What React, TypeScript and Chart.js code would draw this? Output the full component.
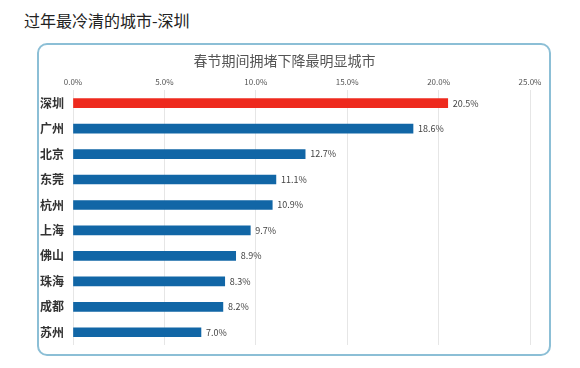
import React, { useEffect, useRef } from "react";
import { Chart, registerables } from "chart.js";

Chart.register(...registerables);

const pageTitle = "过年最冷清的城市-深圳";
const chartTitle = "春节期间拥堵下降最明显城市";
const cities = ["深圳", "广州", "北京", "东莞", "杭州", "上海", "佛山", "珠海", "成都", "苏州"];
const values = [20.5, 18.6, 12.7, 11.1, 10.9, 9.7, 8.9, 8.3, 8.2, 7.0];
const highlightCity = "深圳";
const xMin = 0;
const xMax = 25;
const xStep = 5;

const FONT = "'Noto Sans CJK SC', 'Noto Sans', sans-serif";

const valueLabelPlugin = {
  id: "valueLabels",
  afterDatasetsDraw(chart: any) {
    const ctx = chart.ctx;
    const meta = chart.getDatasetMeta(0);
    ctx.save();
    ctx.font = `9px ${FONT}`;
    ctx.fillStyle = "#444";
    ctx.textBaseline = "middle";
    ctx.textAlign = "left";
    meta.data.forEach((bar: any, i: number) => {
      ctx.fillText(values[i].toFixed(1) + "%", bar.x + 5, bar.y);
    });
    ctx.restore();
  },
};

export default function App() {
  const ref = useRef<HTMLCanvasElement>(null);
  useEffect(() => {
    if (!ref.current) return;
    const chart = new Chart(ref.current, {
      type: "bar",
      data: {
        labels: cities,
        datasets: [
          {
            data: values,
            backgroundColor: cities.map((c) => (c === highlightCity ? "#ee2a1e" : "#1166a6")),
            barThickness: 9,
          },
        ],
      },
      options: {
        indexAxis: "y",
        animation: false,
        responsive: false,
        maintainAspectRatio: false,
        layout: { padding: { left: 0, right: 19, top: 0, bottom: 9 } },
        plugins: {
          legend: { display: false },
          tooltip: { enabled: false },
          title: {
            display: true,
            text: chartTitle,
            color: "#555",
            font: { family: FONT, size: 14, weight: "normal" },
            padding: { top: 7, bottom: 4 },
          },
        },
        scales: {
          x: {
            position: "top",
            min: xMin,
            max: xMax,
            ticks: {
              stepSize: xStep,
              color: "#555",
              font: { family: FONT, size: 8 },
              padding: 4,
              callback: (v: any) => Number(v).toFixed(1) + "%",
            },
            grid: { color: "#e6e6e6", drawTicks: false },
            border: { display: false },
          },
          y: {
            afterFit: (s: any) => {
              s.width = 34;
              s.paddingTop = 0;
              s.paddingBottom = 0;
            },
            ticks: {
              color: "#333",
              font: { family: FONT, size: 12, weight: "bold" },
              padding: 9,
            },
            grid: { display: false, drawTicks: false },
            border: { display: false },
          },
        },
      },
      plugins: [valueLabelPlugin],
    });
    return () => chart.destroy();
  }, []);

  return (
    <div style={{ position: "absolute", left: 0, top: 0, width: 580, height: 368, background: "#fff", fontFamily: FONT }}>
      <div style={{ position: "absolute", left: 24, top: 8, fontSize: 16, color: "#222", lineHeight: "24px", whiteSpace: "nowrap" }}>
        {pageTitle}
      </div>
      <div
        style={{
          position: "absolute",
          left: 37,
          top: 43,
          width: 514,
          height: 313,
          boxSizing: "border-box",
          border: "2px solid #8cbfd6",
          borderRadius: 10,
          overflow: "hidden",
        }}
      >
        <canvas ref={ref} width={510} height={309} style={{ display: "block" }} />
      </div>
    </div>
  );
}
